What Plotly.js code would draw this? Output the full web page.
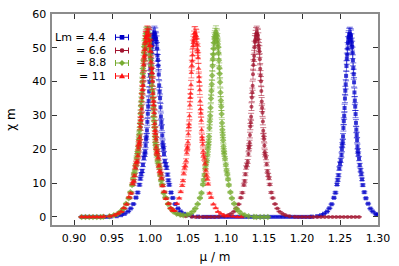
<!DOCTYPE html>
<html>
<head>
<meta charset="utf-8">
<script src="https://cdn.plot.ly/plotly-3.0.1.min.js"></script>
<style>html,body{margin:0;padding:0;background:#fff;}#chart{width:399px;height:266px;}</style>
</head>
<body>
<div id="chart"></div>
<script>
// ---- data ----
const seriesNames = ["Lm = 4.4", "= 6.6", "= 8.8", "= 11"];
const xTickVals = [0.90, 0.95, 1.00, 1.05, 1.10, 1.15, 1.20, 1.25, 1.30];
const xTickText = ["0.90", "0.95", "1.00", "1.05", "1.10", "1.15", "1.20", "1.25", "1.30"];
const yTickVals = [0, 10, 20, 30, 40, 50, 60];

const muLm44 = [0.910,0.915,0.920,0.925,0.930,0.935,0.940,0.945,
0.9482,0.9562,0.9620,0.9666,0.9712,0.9746,0.9781,0.9815,0.9838,0.9861,0.9884,0.9907,0.9930,0.9942,0.9953,0.9965,0.9976,0.9988,0.9999,1.0011,1.0022,1.0034,1.0045,
1.0057,
1.0069,1.0080,1.0092,1.0103,1.0115,1.0126,1.0138,1.0149,1.0161,1.0172,1.0184,1.0207,1.0230,1.0253,1.0276,1.0299,1.0333,1.0368,1.0402,1.0448,1.0494,1.0552,1.0632,
1.070,1.075,1.080,1.085,1.090,1.095,1.100,1.105,1.110,1.115,1.120,1.125,1.130,1.135,1.140,1.145,1.150,1.155,1.160,1.165,1.170,1.175,1.180,1.185,1.190,1.195,1.200,1.205,1.210,
1.2130,1.2200,1.2250,1.2290,1.2330,1.2360,1.2390,1.2420,1.2440,1.2460,1.2480,1.2500,1.2520,1.2530,1.2540,1.2550,1.2560,1.2570,1.2580,1.2590,1.2600,1.2610,1.2620,
1.2630,
1.2640,1.2650,1.2660,1.2670,1.2680,1.2690,1.2700,1.2710,1.2720,1.2730,1.2740,1.2760,1.2780,1.2800,1.2820,1.2840,1.2870,1.2900,1.2930,1.2970,1.2995,
1.0040,1.0028,1.0017,1.0005,0.9994,0.9982,0.9971,0.9959,0.9948,0.9936,0.9919,0.9896,0.9873,
1.0074,1.0086,1.0097,1.0109,1.0120,1.0132,1.0143,1.0155,1.0166,1.0178,1.0195,1.0218,1.0241,
1.2615,1.2605,1.2595,1.2585,1.2575,1.2565,1.2555,1.2545,1.2535,1.2525,1.2510,1.2490,1.2470,
1.2645,1.2655,1.2665,1.2675,1.2685,1.2695,1.2705,1.2715,1.2725,1.2735,1.2750,1.2770,1.2790];
const chiLm44 = [0,0,0,0,0,0,0,0,
0.08,0.2,0.5,0.9,1.6,2.5,3.8,5.7,7.2,9.5,12.6,15.4,18.5,21.2,23.8,28.1,32.6,37.1,41.9,46.6,50.1,52.4,54.0,
54.5,
54.0,52.6,49.8,46.4,42.1,37.0,32.4,28.0,24.1,20.9,18.6,15.5,12.5,9.5,7.2,5.6,3.8,2.5,1.6,0.9,0.5,0.2,0.07,
0,0,0,0,0,0,0,0,0,0,0,0,0,0,0,0,0,0,0,0,0,0,0,0,0,0,0,0,0,
0.07,0.21,0.48,0.93,1.57,2.55,3.75,5.65,7.15,9.6,12.3,15.7,18.3,21.2,23.8,28.3,32.2,37.3,41.7,46.8,49.8,52.7,53.9,
54.2,
53.8,52.3,50.2,46.3,42.2,36.8,32.6,27.8,24.2,20.8,18.6,15.3,12.6,9.4,7.3,5.5,3.9,2.45,1.6,0.88,0.6,
53.4,51.0,48.6,43.9,39.9,34.3,30.5,25.6,22.9,19.3,17.4,13.6,11.3,
53.0,51.7,47.7,44.7,38.9,35.1,29.7,26.4,22.0,20.1,16.5,14.5,10.8,
53.2,51.5,48.0,44.6,39.2,35.0,29.9,26.3,22.2,20.0,16.7,14.3,10.9,
53.4,51.1,48.5,44.0,39.8,34.4,30.4,25.8,22.7,19.5,17.2,13.8,11.1];

const muLm66 = [0.910,0.915,0.920,0.925,0.930,0.935,
0.9400,0.9480,0.9538,0.9584,0.9630,0.9664,0.9699,0.9733,0.9756,0.9779,0.9802,0.9825,0.9848,0.9860,0.9871,0.9883,0.9894,0.9906,0.9917,0.9929,0.9940,0.9952,0.9963,
0.9975,
0.9987,0.9998,1.0010,1.0021,1.0033,1.0044,1.0056,1.0067,1.0079,1.0090,1.0102,1.0125,1.0148,1.0171,1.0194,1.0217,1.0251,1.0286,1.0320,1.0366,1.0412,1.0470,1.0550,
1.060,1.065,1.070,1.075,1.080,1.085,
1.0905,1.0975,1.1025,1.1065,1.1105,1.1135,1.1165,1.1195,1.1215,1.1235,1.1255,1.1275,1.1295,1.1305,1.1315,1.1325,1.1335,1.1345,1.1355,1.1365,1.1375,1.1385,1.1395,
1.1405,
1.1415,1.1425,1.1435,1.1445,1.1455,1.1465,1.1475,1.1485,1.1495,1.1505,1.1515,1.1535,1.1555,1.1575,1.1595,1.1615,1.1645,1.1675,1.1705,1.1745,1.1785,1.1835,1.1905,
1.195,1.200,1.205,1.210,1.215,1.220,1.225,1.230,1.235,1.240,1.245,1.250,1.255,1.260,1.265,1.270,1.275,
0.9958,0.9946,0.9935,0.9923,0.9912,0.9900,0.9889,0.9877,0.9866,0.9854,0.9837,0.9814,0.9791,
0.9992,1.0004,1.0015,1.0027,1.0038,1.0050,1.0061,1.0073,1.0084,1.0096,1.0113,1.0136,1.0159,
1.1390,1.1380,1.1370,1.1360,1.1350,1.1340,1.1330,1.1320,1.1310,1.1300,1.1285,1.1265,1.1245,
1.1420,1.1430,1.1440,1.1450,1.1460,1.1470,1.1480,1.1490,1.1500,1.1510,1.1525,1.1545,1.1565];
const chiLm66 = [0,0,0,0,0,0,
0.07,0.2,0.5,0.92,1.58,2.5,3.8,5.6,7.1,9.6,12.4,15.7,18.4,21.3,23.7,28.3,32.2,37.3,41.6,46.8,49.7,52.7,53.8,
54.4,
54.1,52.3,50.4,46.2,42.4,36.7,32.7,27.6,24.3,20.7,18.7,15.3,12.6,9.3,7.3,5.5,3.9,2.4,1.65,0.88,0.52,0.19,0.07,
0,0,0,0,0,0,
0.07,0.2,0.49,0.93,1.6,2.55,3.75,5.65,7.15,9.45,12.6,15.4,18.6,20.9,24.2,27.9,32.6,36.8,42.2,46.4,50.2,52.4,54.1,
54.5,
53.9,52.6,49.8,46.6,41.8,37.2,32.3,28.2,23.9,21.1,18.4,15.6,12.4,9.6,7.2,5.6,3.8,2.5,1.55,0.9,0.5,0.2,0.07,
0,0,0,0,0,0,0,0,0,0,0,0,0,0,0,0,0,
53.1,51.6,47.9,44.8,39.0,35.2,29.8,26.5,22.1,20.2,16.6,14.4,10.7,
53.5,50.9,48.7,43.9,40.0,34.2,30.6,25.7,22.8,19.4,17.3,13.7,11.2,
53.3,51.8,47.6,44.9,38.8,35.3,29.6,26.7,21.9,20.3,16.4,14.6,10.6,
53.6,50.7,48.9,43.8,40.1,34.1,30.8,25.5,23.0,19.2,17.5,13.5,11.4];

const muLm88 = [0.910,0.915,0.920,0.925,0.930,0.935,
0.9385,0.9465,0.9523,0.9569,0.9615,0.9649,0.9684,0.9718,0.9741,0.9764,0.9787,0.9810,0.9833,0.9845,0.9856,0.9868,0.9879,0.9891,0.9902,0.9914,0.9925,0.9937,0.9948,
0.9960,
0.9972,0.9983,0.9995,1.0006,1.0018,1.0029,1.0041,1.0052,1.0064,1.0075,1.0087,1.0110,1.0133,1.0156,1.0179,1.0202,1.0236,1.0271,1.0305,1.0351,1.0397,
1.0437,1.0487,1.0527,
1.0567,1.0597,1.0627,1.0657,1.0677,1.0697,1.0717,1.0737,1.0757,1.0767,1.0777,1.0787,1.0797,1.0807,1.0817,1.0827,1.0837,1.0847,1.0857,
1.0867,
1.0877,1.0887,1.0897,1.0907,1.0917,1.0927,1.0937,1.0947,1.0957,1.0967,1.0977,1.0997,1.1017,1.1037,1.1057,1.1077,1.1107,1.1137,1.1167,1.1207,1.1247,1.1297,1.1367,
1.140,1.145,1.150,1.155,
0.9943,0.9931,0.9920,0.9908,0.9897,0.9885,0.9874,0.9862,0.9851,0.9839,0.9822,0.9799,0.9776,
0.9977,0.9989,1.0000,1.0012,1.0023,1.0035,1.0046,1.0058,1.0069,1.0081,1.0098,1.0121,1.0144,
1.0852,1.0842,1.0832,1.0822,1.0812,1.0802,1.0792,1.0782,1.0772,1.0762,1.0747,1.0727,1.0707,
1.0882,1.0892,1.0902,1.0912,1.0922,1.0932,1.0942,1.0952,1.0962,1.0972,1.0987,1.1007,1.1027];
const chiLm88 = [0,0,0,0,0,0,
0.07,0.19,0.52,0.88,1.65,2.4,3.9,5.5,7.3,9.4,12.7,15.3,18.7,20.8,24.3,27.7,32.8,36.6,42.4,46.2,50.3,52.3,54.2,
54.3,
53.9,52.7,49.7,46.8,41.7,37.3,32.2,28.3,23.8,21.2,18.3,15.7,12.4,9.6,7.1,5.7,3.8,2.5,1.6,0.9,0.6,
0.45,0.6,0.95,
1.6,2.5,3.8,5.6,7.1,9.6,12.4,15.6,18.4,21.2,23.8,28.2,32.3,37.2,41.8,46.7,49.8,52.6,53.9,
54.6,
53.8,52.4,50.2,46.3,42.3,36.8,32.6,27.8,24.2,20.8,18.6,15.4,12.6,9.4,7.3,5.5,3.9,2.4,1.7,0.85,0.52,0.19,0.07,
0,0,0,0,
53.4,51.0,48.6,43.9,39.9,34.3,30.5,25.6,22.9,19.3,17.4,13.6,11.3,
53.0,51.7,47.7,44.7,38.9,35.1,29.7,26.4,22.0,20.1,16.5,14.5,10.8,
53.2,51.5,48.0,44.6,39.2,35.0,29.9,26.3,22.2,20.0,16.7,14.3,10.9,
53.4,51.1,48.5,44.0,39.8,34.4,30.4,25.8,22.7,19.5,17.2,13.8,11.1];

const muLm11 = [0.910,0.915,0.920,0.925,0.930,0.935,
0.9390,0.9470,0.9528,0.9574,0.9620,0.9654,0.9689,0.9723,0.9746,0.9769,0.9792,0.9815,0.9838,0.9850,0.9861,0.9873,0.9884,0.9896,0.9907,0.9919,0.9930,0.9942,0.9953,
0.9965,
0.9977,0.9988,1.0000,1.0011,1.0023,1.0034,1.0046,1.0057,1.0069,1.0080,1.0092,1.0115,1.0138,1.0161,1.0184,1.0207,1.0241,
1.0270,1.0295,1.0320,
1.0354,1.0384,1.0404,1.0424,1.0444,1.0464,1.0484,1.0494,1.0504,1.0514,1.0524,1.0534,1.0544,1.0554,1.0564,1.0574,1.0584,
1.0594,
1.0604,1.0614,1.0624,1.0634,1.0644,1.0654,1.0664,1.0674,1.0684,1.0694,1.0704,1.0724,1.0744,1.0764,1.0784,1.0804,1.0834,1.0864,1.0894,1.0934,1.0974,1.1024,1.1094,
1.115,1.120,
0.9948,0.9936,0.9925,0.9913,0.9902,0.9890,0.9879,0.9867,0.9856,0.9844,0.9827,0.9804,0.9781,
0.9982,0.9994,1.0005,1.0017,1.0028,1.0040,1.0051,1.0063,1.0074,1.0086,1.0103,1.0126,1.0149,
1.0579,1.0569,1.0559,1.0549,1.0539,1.0529,1.0519,1.0509,1.0499,1.0489,1.0474,1.0454,1.0434,
1.0609,1.0619,1.0629,1.0639,1.0649,1.0659,1.0669,1.0679,1.0689,1.0699,1.0714,1.0734,1.0754];
const chiLm11 = [0,0,0,0,0,0,
0.08,0.21,0.48,0.95,1.55,2.6,3.7,5.8,7.0,9.8,12.2,15.9,18.1,21.5,23.4,28.6,31.8,37.6,41.3,47.1,49.4,52.9,53.6,
54.6,
53.8,52.1,50.6,45.9,42.7,36.4,33.1,27.5,24.6,20.6,18.9,15.1,12.8,9.2,7.4,5.4,3.9,
2.6,1.9,1.8,
3.9,5.5,7.4,9.3,12.8,15.2,18.9,20.6,24.5,27.4,33.0,36.5,42.6,46.0,50.5,52.2,54.3,
54.4,
53.7,52.8,49.5,47.0,41.4,37.5,31.9,28.5,23.6,21.4,18.2,15.8,12.3,9.7,7.0,5.7,3.7,2.6,1.5,0.95,0.48,0.21,0.08,
0,0,
53.0,51.8,47.6,44.9,38.8,35.3,29.6,26.7,21.9,20.3,16.4,14.6,10.6,
53.6,50.7,48.9,43.8,40.1,34.1,30.8,25.5,23.0,19.2,17.5,13.5,11.4,
53.1,51.6,47.9,44.8,39.0,35.2,29.8,26.5,22.1,20.2,16.6,14.4,10.7,
53.5,50.9,48.7,43.9,40.0,34.2,30.6,25.7,22.8,19.4,17.3,13.7,11.2];

const muSeries = [muLm44, muLm66, muLm88, muLm11];
const chiSeries = [chiLm44, chiLm66, chiLm88, chiLm11];

// ---- styles ----
const colors = ["#0000c8", "#a2142f", "#77ac30", "#ff1010"];
const errColors = ["rgba(0,0,200,0.55)", "rgba(162,20,47,0.55)", "rgba(119,172,48,0.55)", "rgba(255,16,16,0.5)"];
const symbols = ["square", "circle", "diamond", "triangle-up"];
const FONT = "DejaVu Sans";

muSeries.forEach((a, i) => { if (a.length !== chiSeries[i].length) throw new Error("length mismatch " + i + ": " + a.length + " vs " + chiSeries[i].length); });

const traces = muSeries.map((mu, i) => ({
  type: "scatter", mode: "markers",
  x: mu, y: chiSeries[i], name: seriesNames[i], showlegend: false,
  marker: {symbol: symbols[i], size: i >= 2 ? 5 : 4, color: colors[i], opacity: 0.75, line: {width: 0}},
  error_y: {type: "percent", value: 3.5, thickness: 1, width: 3, color: errColors[i]},
  cliponaxis: true
}));

// plot-area geometry in pixels
const W = 399, H = 266, mL = 52, mR = 21, mT = 14, mB = 41;
const pw = W - mL - mR, ph = H - mT - mB;
const px = v => (v - mL) / pw;
const py = v => (H - mB - v) / ph;

const rows = [37.3, 50.5, 63.0, 76.0];
const annotations = [];
const shapes = [];
rows.forEach((r, i) => {
  annotations.push({xref: "paper", yref: "paper", x: px(108), y: py(r), xanchor: "right", yanchor: "middle",
    text: seriesNames[i], showarrow: false, font: {family: FONT, size: 11, color: "#000"}});
  const lc = {color: colors[i], width: 1};
  shapes.push({type: "line", xref: "paper", yref: "paper", x0: px(115.5), x1: px(128.5), y0: py(r), y1: py(r), line: lc});
  shapes.push({type: "line", xref: "paper", yref: "paper", x0: px(115.5), x1: px(115.5), y0: py(r - 3), y1: py(r + 3), line: lc});
  shapes.push({type: "line", xref: "paper", yref: "paper", x0: px(128.5), x1: px(128.5), y0: py(r - 3), y1: py(r + 3), line: lc});
  const cx = 122, s = 2.3;
  const fill = {type: "rect", xref: "paper", yref: "paper", fillcolor: colors[i], line: {width: 0}};
  if (i === 0) shapes.push(Object.assign({}, fill, {x0: px(cx - s), x1: px(cx + s), y0: py(r + s), y1: py(r - s)}));
  else if (i === 1) shapes.push(Object.assign({}, fill, {type: "circle", x0: px(cx - s), x1: px(cx + s), y0: py(r + s), y1: py(r - s)}));
  else if (i === 2) shapes.push({type: "path", xref: "paper", yref: "paper", fillcolor: colors[i], line: {width: 0},
    path: `M ${px(cx)},${py(r - 3)} L ${px(cx + 3)},${py(r)} L ${px(cx)},${py(r + 3)} L ${px(cx - 3)},${py(r)} Z`});
  else shapes.push({type: "path", xref: "paper", yref: "paper", fillcolor: colors[i], line: {width: 0},
    path: `M ${px(cx)},${py(r - 3)} L ${px(cx + 3)},${py(r + 2.2)} L ${px(cx - 3)},${py(r + 2.2)} Z`});
});

const axisCommon = {
  showgrid: false, zeroline: false, showline: true, linecolor: "#8c8c8c", linewidth: 1.6,
  mirror: "ticks", ticks: "inside", ticklen: 5, tickwidth: 1, tickcolor: "#333",
  tickfont: {family: FONT, size: 11, color: "#000"}
};

const layout = {
  width: W, height: H,
  margin: {l: mL, r: mR, t: mT, b: mB, pad: 0},
  paper_bgcolor: "#fff", plot_bgcolor: "#fff",
  showlegend: false,
  font: {family: FONT, size: 11, color: "#000"},
  xaxis: Object.assign({}, axisCommon, {
    range: [0.871, 1.30], tickmode: "array", tickvals: xTickVals, ticktext: xTickText,
    ticklabelstandoff: 2,
    title: {text: "μ / m", font: {family: FONT, size: 12, color: "#000"}, standoff: 9}
  }),
  yaxis: Object.assign({}, axisCommon, {
    range: [-2.4, 60], tickmode: "array", tickvals: yTickVals,
    ticklabelstandoff: 2,
    title: {text: "χ m", font: {family: FONT, size: 12, color: "#000"}, standoff: 14}
  }),
  annotations: annotations,
  shapes: shapes
};

Plotly.newPlot("chart", traces, layout, {staticPlot: true, displayModeBar: false});
</script>
</body>
</html>
